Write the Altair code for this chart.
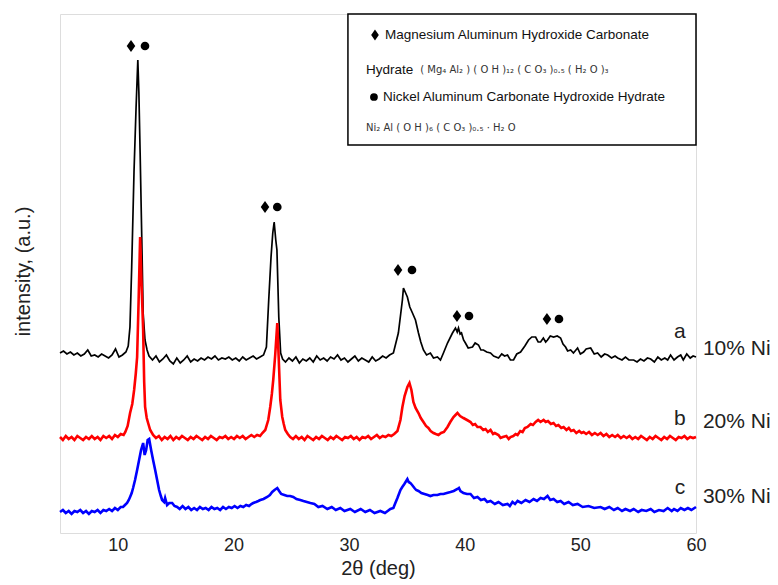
import altair as alt
import pandas as pd

FONT = "Liberation Sans"
X_TICKS = [10, 20, 30, 40, 50, 60]

# (2theta, intensity a.u.)
black_pts = [
    (5.0,179),(5.3,181),(5.6,178),(5.9,180),(6.2,177),(6.5,179),(6.8,176),(7.1,178),(7.4,182),(7.7,176),
    (8.0,177),(8.3,175),(8.6,178),(8.9,176),(9.2,174),(9.5,177),(9.8,183),(10.1,175),(10.4,177),(10.7,180),
    (10.9,186),(11.05,205),(11.2,265),(11.4,360),(11.58,425),(11.73,472),(11.82,440),(11.93,379),(12.07,295),
    (12.19,219),(12.35,192),(12.53,182),(12.7,176),
    (13.0,172),(13.3,176),(13.6,170),(13.9,173),(14.2,177),(14.5,171),(14.8,168),(15.1,174),(15.4,169),(15.7,172),
    (16.0,176),(16.3,170),(16.6,173),(16.9,171),(17.2,174),(17.5,172),(17.8,175),(18.1,173),(18.4,176),(18.7,172),
    (19.0,174),(19.3,173),(19.6,175),(19.9,172),(20.2,174),(20.5,171),(20.8,175),(21.1,172),(21.4,174),(21.7,176),
    (22.0,173),(22.3,175),(22.6,177),
    (22.85,185),(23.05,232),(23.25,275),(23.4,299),(23.52,310),(23.66,292),(23.76,282),(23.92,215),(24.08,179),(24.25,173),
    (24.5,170),(24.8,174),(25.1,171),(25.4,175),(25.7,169),(26.0,173),(26.3,171),(26.6,174),(26.9,170),(27.2,176),
    (27.5,172),(27.8,174),(28.1,171),(28.4,175),(28.7,173),(29.0,177),(29.3,172),(29.6,174),(29.9,170),(30.2,173),
    (30.5,176),(30.8,171),(31.1,174),(31.4,172),(31.7,170),(32.0,175),(32.3,171),(32.6,173),(32.9,176),(33.2,174),
    (33.5,177),
    (33.83,179),(34.26,199),(34.61,232),(34.7,244),(34.85,240),(35.04,235),(35.25,225),(35.48,219),(35.74,212),
    (36.0,199),(36.2,190),(36.43,182),(36.7,177),(37.03,179),(37.3,174),(37.64,175),(37.9,172),(38.16,179),
    (38.51,189),(38.94,199),(39.2,204),(39.35,200),(39.46,204),(39.6,198),(39.72,199),(39.9,192),(40.06,189),
    (40.3,184),(40.67,185),(40.9,189),(41.19,187),(41.4,182),(41.62,182),(41.9,180),(42.23,179),(42.5,176),
    (42.92,174),(43.2,178),(43.45,176),(43.7,177),(43.95,172),(44.22,172),
    (44.5,178),(44.83,180),(45.2,186),(45.52,192),(45.8,195),(46.13,195),(46.35,190),(46.56,190),(46.8,194),
    (47.0,190),(47.16,192),(47.4,196),(47.68,195),(48.0,196),(48.29,194),(48.5,188),(48.72,185),(48.9,181),
    (49.16,182),(49.4,179),(49.76,184),(50.0,178),(50.28,180),(50.5,183),(50.89,184),(51.2,178),(51.49,179),
    (51.8,175),(52.1,178),(52.36,177),(52.7,174),(53.0,176),(53.23,174),(53.6,172),(53.9,175),(54.2,172),
    (54.61,172),(54.9,170),(55.2,173),(55.5,171),(55.8,174),(56.08,173),(56.4,170),(56.7,175),(57.0,172),
    (57.3,174),(57.55,172),(57.8,177),(58.1,172),(58.4,175),(58.68,177),(58.9,172),(59.2,178),(59.5,174),
    (59.75,176),(60.0,175),
]

red_pts = [
    (5.0,95),(5.25,92),(5.5,96),(5.75,93),(6.0,95),(6.25,92),(6.5,96),(6.75,94),(7.0,92),(7.25,95),(7.5,93),
    (7.75,96),(8.0,93),(8.25,95),(8.5,92),(8.75,96),(9.0,94),(9.25,96),(9.5,93),(9.75,97),(10.0,95),(10.25,98),
    (10.5,97),
    (10.65,100),(10.85,106),(11.06,119),(11.25,128),(11.41,142),(11.55,158),(11.67,175),(11.8,232),(11.93,295),
    (12.04,252),(12.19,202),(12.28,150),(12.36,125),(12.5,114),(12.62,109),(12.8,102),(13.05,97),
    (13.3,94),(13.55,96),(13.8,92),(14.05,95),(14.3,93),(14.55,96),(14.8,92),(15.05,95),(15.3,93),(15.55,96),
    (15.8,94),(16.05,92),(16.3,95),(16.55,93),(16.8,96),(17.05,94),(17.3,92),(17.55,95),(17.8,93),(18.05,96),
    (18.3,94),(18.55,92),(18.8,95),(19.05,94),(19.3,96),(19.55,93),(19.8,95),(20.05,93),(20.3,96),(20.55,94),
    (20.8,96),(21.05,93),(21.3,95),(21.55,97),(21.8,95),(22.05,97),(22.3,96),(22.5,99),
    (22.75,102),(23.01,112),(23.18,125),(23.32,138),(23.44,152),(23.61,177),(23.79,209),(23.92,172),(24.05,132),
    (24.22,115),(24.35,108),(24.48,102),(24.7,98),(24.91,95),
    (25.15,93),(25.4,96),(25.65,93),(25.9,95),(26.15,92),(26.4,96),(26.65,94),(26.9,92),(27.15,95),(27.4,93),
    (27.65,96),(27.9,94),(28.15,92),(28.4,95),(28.65,93),(28.9,96),(29.15,94),(29.4,92),(29.65,95),(29.9,94),
    (30.15,96),(30.4,93),(30.65,95),(30.9,92),(31.15,95),(31.4,94),(31.65,96),(31.9,93),(32.15,95),(32.4,97),
    (32.65,94),(32.9,96),(33.15,95),(33.4,97),(33.65,96),(33.9,98),
    (34.18,101),(34.44,112),(34.61,125),(34.8,136),(35.04,145),(35.22,149),(35.39,142),(35.56,130),(35.75,124),
    (36.0,119),(36.2,114),(36.43,110),(36.65,106),(36.86,104),(37.05,101),(37.3,99),(37.5,98),(37.73,97),
    (37.95,99),
    (38.2,100),(38.51,105),(38.75,110),(39.03,115),(39.2,117),(39.37,119),(39.6,116),(39.89,114),(40.2,112),
    (40.5,110),(40.7,107),(40.9,108),(41.1,105),(41.36,105),(41.6,102),(41.8,103),(42.0,100),(42.23,102),
    (42.45,98),(42.6,99),(42.92,97),(43.1,94),(43.3,95),(43.6,96),(43.8,93),(43.96,95),
    (44.2,96),(44.4,98),(44.57,97),(44.8,101),(45.0,100),(45.2,104),(45.43,105),(45.7,108),(45.9,107),
    (46.13,110),(46.35,112),(46.56,110),(46.82,112),(47.0,110),(47.2,111),(47.45,108),(47.68,109),(47.9,106),
    (48.1,107),(48.35,104),(48.55,105),(48.8,102),(49.0,104),(49.2,101),(49.42,102),(49.65,99),(49.9,101),
    (50.1,99),(50.28,100),(50.5,98),(50.75,100),(51.0,97),(51.25,99),(51.5,97),(51.75,99),(52.0,96),(52.25,98),
    (52.5,95),(52.75,97),(53.0,95),(53.23,97),(53.5,94),(53.75,96),(54.0,94),(54.25,96),(54.5,93),(54.75,95),
    (55.0,93),(55.25,96),(55.5,94),(55.75,92),(56.0,95),(56.25,93),(56.5,96),(56.75,94),(57.0,92),(57.25,95),
    (57.5,93),(57.75,96),(58.0,94),(58.25,92),(58.5,95),(58.75,94),(59.0,96),(59.25,93),(59.5,95),(59.75,94),
    (60.0,95),
]

blue_pts = [
    (5.0,20),(5.25,22),(5.5,19),(5.75,21),(6.0,18),(6.25,21),(6.5,20),(6.75,22),(7.0,19),(7.25,21),(7.5,18),
    (7.75,21),(8.0,20),(8.25,22),(8.5,19),(8.75,22),(9.0,21),(9.25,23),(9.5,21),(9.75,24),(10.0,22),(10.25,25),
    (10.45,25),(10.62,27),(10.8,29),(10.95,32),(11.06,35),(11.2,39),(11.32,44),(11.49,52),(11.67,62),(11.84,72),
    (12.01,82),(12.19,89),(12.32,77),(12.45,82),(12.58,92),(12.71,93),(12.88,82),(13.05,72),(13.23,62),(13.4,52),
    (13.57,42),(13.72,36),(13.83,32),(14.0,30),(14.09,34),(14.26,27),(14.45,29),(14.7,29),(14.9,26),(15.13,25),
    (15.35,23),(15.6,26),(15.85,23),(16.1,25),(16.35,22),(16.6,24),(16.85,22),(17.1,25),(17.35,23),(17.6,24),
    (17.85,22),(18.1,25),(18.35,23),(18.6,24),(18.85,22),(19.1,25),(19.35,23),(19.6,25),(19.85,24),(20.1,26),
    (20.35,24),(20.6,26),(20.85,25),(21.1,27),(21.35,26),(21.55,28),
    (21.71,29),(21.95,30),(22.15,31),(22.32,32),(22.6,33),(22.92,35),(23.15,37),(23.35,40),(23.55,42),(23.79,44),
    (23.95,41),(24.13,38),(24.4,37),(24.65,36),(24.9,36),(25.17,35),(25.45,33),(25.78,32),(26.05,31),(26.35,30),
    (26.65,29),(27.0,28),(27.34,25),(27.7,26),(28.12,23),(28.5,25),(28.85,22),(29.24,24),(29.6,21),(30.1,23),
    (30.5,20),(31.0,23),(31.4,20),(31.8,22),(32.2,19),(32.7,21),(33.1,19),(33.57,23),(33.83,24),
    (34.0,29),(34.18,34),(34.44,42),(34.6,45),(34.78,48),(35.04,53),(35.15,50),(35.3,49),(35.45,47),(35.65,44),
    (35.8,42),(36.0,41),(36.25,39),(36.52,38),(36.8,37),(37.03,36),(37.3,37),(37.64,37),(37.9,38),(38.16,38),
    (38.45,39),(38.77,40),(39.05,41),(39.37,43),(39.5,44),(39.63,41),(39.89,39),(40.2,38),
    (40.5,38),(40.8,34),(41.1,35),(41.4,32),(41.71,33),(41.95,30),(42.23,31),(42.6,28),(42.92,30),(43.3,27),
    (43.7,28),(43.9,26),(44.13,30),(44.35,28),(44.57,31),(44.9,29),(45.26,32),(45.6,30),(45.95,33),(46.25,31),
    (46.56,34),(46.85,33),(47.16,36),(47.4,32),(47.68,33),(48.0,30),(48.29,31),(48.6,28),(48.98,30),(49.35,27),
    (49.76,28),(50.2,25),(50.71,26),(51.2,24),(51.75,25),(52.1,23),(52.5,25),(52.9,22),(53.23,24),(53.6,21),
    (53.9,23),(54.3,21),(54.61,23),(55.0,20),(55.3,22),(55.7,21),(56.08,23),(56.4,20),(56.8,22),(57.2,21),
    (57.55,24),(57.9,21),(58.1,23),(58.4,21),(58.68,24),(59.0,22),(59.3,24),(59.6,22),(60.0,25),
]

# peak markers
diamond_x = [11.14, 22.73, 34.23, 39.33, 47.11]
circle_x = [12.35, 23.79, 35.44, 40.37, 48.15]
marker_y = [486, 325, 262, 216, 213]

# curve labels
letters = ["a", "b", "c"]
letter_x = [58.61, 58.61, 58.61]
letter_y = [200, 113, 44]
samples = ["10% Ni", "20% Ni", "30% Ni"]
sample_x = [60.6, 60.6, 60.6]
sample_y = [183, 110, 35]

# legend box contents
box = {"x0": [29.9], "x1": [60.0], "y0": [387], "y1": [518]}
legend_big = ["Magnesium Aluminum Hydroxide Carbonate", "Hydrate", "Nickel Aluminum Carbonate Hydroxide Hydrate"]
legend_big_x = [33.1, 31.46, 32.93]
legend_big_y = [497, 462, 435]
legend_small = ["( Mg₄ Al₂ ) ( O H )₁₂ ( C O₃ )₀.₅ ( H₂ O )₃", "Ni₂ Al ( O H )₆ ( C O₃ )₀.₅ · H₂ O"]
legend_small_x = [36.15, 31.46]
legend_small_y = [462, 404]
legend_diamond = {"x": [32.24], "y": [497]}
legend_circle = {"x": [32.15], "y": [435]}

DIAMOND = "M0,-1L0.7,0L0,1L-0.7,0Z"

xscale = alt.Scale(domain=[5, 60], nice=False, zero=False)
yscale = alt.Scale(domain=[-1, 518], nice=False, zero=False)
xaxis = alt.Axis(values=X_TICKS, title="2θ (deg)", labelFontSize=18, titleFontSize=20,
                 titleFontWeight="normal", ticks=False, grid=False, domain=False,
                 labelPadding=3, titlePadding=4, labelColor="#222", titleColor="#222",
                 labelFlush=False, labelFont=FONT, titleFont=FONT)
yaxis = alt.Axis(labels=False, ticks=False, grid=False, domain=False,
                 title="intensity, (a.u.)", titleFontSize=20, titleFontWeight="normal",
                 titleX=-27, titleY=257, titleColor="#222", titleFont=FONT)


def X(f="x"):
    return alt.X(f"{f}:Q", scale=xscale, axis=xaxis)


def Y(f="y"):
    return alt.Y(f"{f}:Q", scale=yscale, axis=yaxis)


def df_pts(pts):
    return pd.DataFrame({"x": [p[0] for p in pts], "y": [p[1] for p in pts]})


line_black = alt.Chart(df_pts(black_pts)).mark_line(color="#000000", strokeWidth=1.7).encode(x=X(), y=Y())
line_red = alt.Chart(df_pts(red_pts)).mark_line(color="#ff0000", strokeWidth=2.6).encode(x=X(), y=Y())
line_blue = alt.Chart(df_pts(blue_pts)).mark_line(color="#0000ff", strokeWidth=2.6).encode(x=X(), y=Y())

dia = alt.Chart(pd.DataFrame({"x": diamond_x, "y": marker_y})).mark_point(
    shape=DIAMOND, filled=True, color="black", size=150, opacity=1).encode(x=X(), y=Y())
cir = alt.Chart(pd.DataFrame({"x": circle_x, "y": marker_y})).mark_point(
    shape="circle", filled=True, color="black", size=75, opacity=1).encode(x=X(), y=Y())

letters_t = alt.Chart(pd.DataFrame({"x": letter_x, "y": letter_y, "t": letters})).mark_text(
    fontSize=21, font=FONT, color="#222", align="center", baseline="middle").encode(x=X(), y=Y(), text="t:N")
samples_t = alt.Chart(pd.DataFrame({"x": sample_x, "y": sample_y, "t": samples})).mark_text(
    fontSize=21, font=FONT, color="#222", align="left", baseline="middle").encode(x=X(), y=Y(), text="t:N")

box_r = alt.Chart(pd.DataFrame(box)).mark_rect(fill="white", stroke="black", strokeWidth=1.5).encode(
    x=X("x0"), x2="x1:Q", y=Y("y0"), y2="y1:Q")
leg_big = alt.Chart(pd.DataFrame({"x": legend_big_x, "y": legend_big_y, "t": legend_big})).mark_text(
    fontSize=13.5, font=FONT, color="#111", align="left", baseline="middle").encode(x=X(), y=Y(), text="t:N")
leg_small = alt.Chart(pd.DataFrame({"x": legend_small_x, "y": legend_small_y, "t": legend_small})).mark_text(
    fontSize=10, font="DejaVu Sans", color="#333", align="left", baseline="middle").encode(x=X(), y=Y(), text="t:N")
leg_dia = alt.Chart(pd.DataFrame(legend_diamond)).mark_point(
    shape=DIAMOND, filled=True, color="black", size=120, opacity=1).encode(x=X(), y=Y())
leg_cir = alt.Chart(pd.DataFrame(legend_circle)).mark_point(
    shape="circle", filled=True, color="black", size=60, opacity=1).encode(x=X(), y=Y())

chart = alt.layer(
    line_black, line_red, line_blue, dia, cir, letters_t, samples_t,
    box_r, leg_big, leg_small, leg_dia, leg_cir,
).properties(
    width=636, height=519,
    padding={"left": 60, "top": 14, "right": 82, "bottom": 52},
    autosize=alt.AutoSizeParams(type="none"),
    background="white",
).configure_view(stroke="black", strokeWidth=2).configure(font=FONT)

chart.save("out.html", embed_options={"renderer": "svg", "actions": False})
